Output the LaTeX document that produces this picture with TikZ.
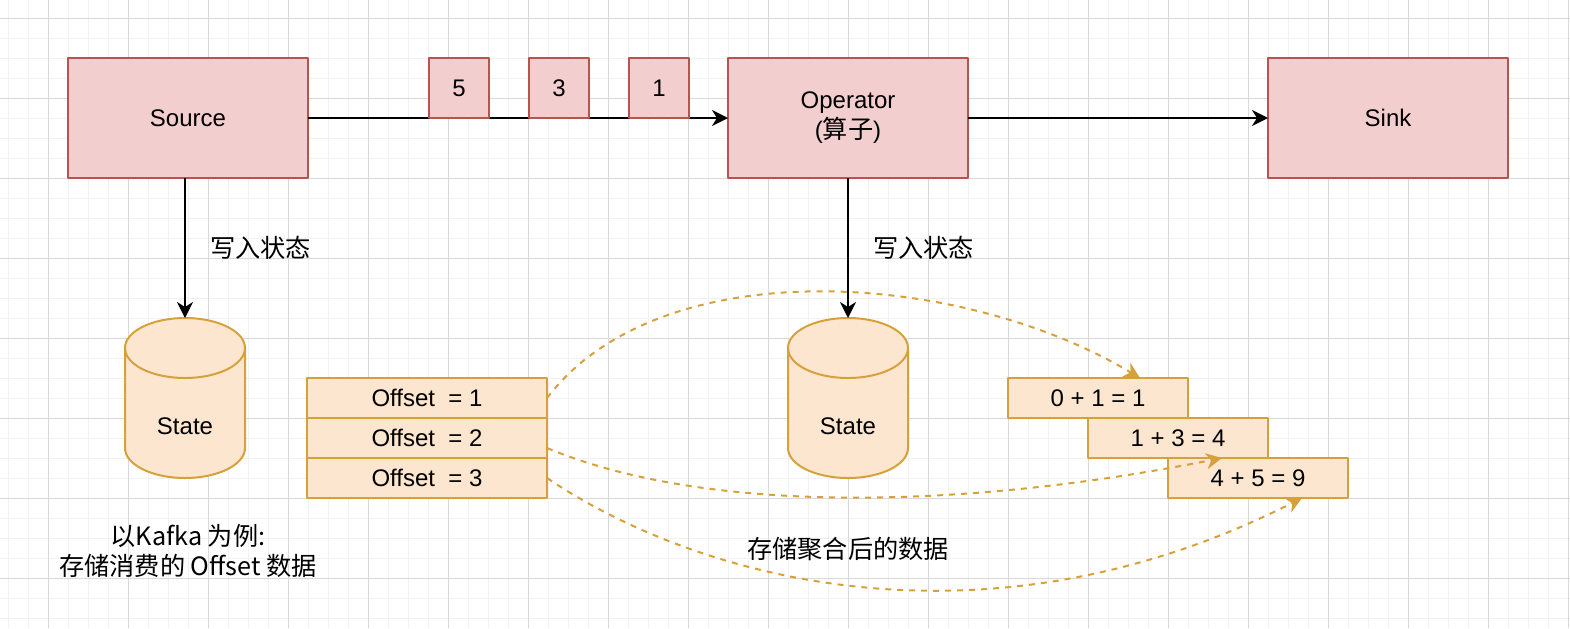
\documentclass[tikz,border=0pt]{standalone}
\usepackage{fontspec}
\setmainfont{Liberation Sans}
\newfontfamily\cjk[Scale=1.05]{Noto Sans CJK SC}
\usetikzlibrary{arrows.meta,positioning}
\definecolor{redline}{HTML}{B85450}
\definecolor{redfill}{HTML}{F2CFCE}
\definecolor{goldline}{HTML}{D6A13B}
\definecolor{goldfill}{HTML}{FCE6CF}
\definecolor{gridmaj}{HTML}{D9D9D9}
\definecolor{gridmin}{HTML}{F1F1F1}
\begin{document}
\begin{tikzpicture}[x=0.5pt,y=-0.5pt,>={Stealth[length=8pt,width=8pt,inset=2.5pt]},line join=round,
		font=\fontsize{12}{15}\selectfont,
		opbox/.style={draw=redline,fill=redfill,line width=1pt,minimum width=120pt,minimum height=60pt,align=center,outer sep=0pt},
		msgbox/.style={draw=redline,fill=redfill,line width=1pt,minimum width=30pt,minimum height=30pt,outer sep=0pt},
		cylnode/.style={minimum width=60pt,minimum height=80pt,inner sep=0pt,outer sep=0pt},
		offbox/.style={draw=goldline,fill=goldfill,line width=1pt,minimum width=120pt,minimum height=20pt,inner sep=0pt,outer sep=0pt},
		resbox/.style={offbox,minimum width=90pt},
		cjktxt/.style={font=\fontsize{12}{15}\selectfont\cjk},
		flow/.style={->,line width=1pt},
		agg/.style={->,draw=goldline,line width=1pt,dash pattern=on 3pt off 3pt}]
	\useasboundingbox (0,0) rectangle (1570,628);
	\begin{scope}[line width=0.5pt]
		\foreach \x in {8,28,...,1568} \draw[gridmin] (\x,0) -- (\x,628);
		\foreach \y in {18,38,...,618} \draw[gridmin] (0,\y) -- (1570,\y);
		\foreach \x in {48,128,...,1568} \draw[gridmaj] (\x,0) -- (\x,628);
		\foreach \y in {18,98,...,578} \draw[gridmaj] (0,\y) -- (1570,\y);
	\end{scope}
	\node[opbox] (src) at (188,118) {Source};
	\node[opbox] (op) at (848,118) {Operator\\({\cjk 算子})};
	\node[opbox] (sink) at (1388,118) {Sink};
	\draw[flow] (src) -- (op);
	\draw[flow] (op) -- (sink);
	\foreach \v/\x in {5/459,3/559,1/659}
	\node[msgbox] (m\v) at (\x,88) {\v};
	\node[cylnode] (st1) at (185,398) {};
	\node[cylnode] (st2) at (848,398) {};
	\foreach \c in {st1,st2}{
		\draw[draw=goldline,fill=goldfill,line width=1pt] ([yshift=-15pt]\c.north west) -- ([yshift=15pt]\c.south west) arc[start angle=180,end angle=360,x radius=30pt,y radius=15pt] -- ([yshift=-15pt]\c.north east) arc[start angle=0,end angle=180,x radius=30pt,y radius=15pt] -- cycle;
		\draw[goldline,line width=1pt] ([yshift=-15pt]\c.north west) arc[start angle=180,end angle=360,x radius=30pt,y radius=15pt];
		\node (\c txt) at ([yshift=-14pt]\c.center) {State};
	}
	\draw[flow] (st1 |- src.south) -- (st1);
	\draw[flow] (op) -- (st2);
	\node[cjktxt,anchor=west] (wr1) at (203,248) {写入状态};
	\node[cjktxt,anchor=west] (wr2) at (866,248) {写入状态};
	\node[offbox] (off1) at (427,398) {Offset\ \ = 1};
	\node[offbox,below=0pt of off1] (off2) {Offset\ \ = 2};
	\node[offbox,below=0pt of off2] (off3) {Offset\ \ = 3};
	\node[resbox] (res1) at (1098,398) {0 + 1 = 1};
	\node[resbox] (res2) at (1178,438) {1 + 3 = 4};
	\node[resbox] (res3) at (1258,478) {4 + 5 = 9};
	\draw[agg] (off1.east) .. controls (660,250) and (960,270) .. ([xshift=21pt]res1.north);
	\draw[agg] ([yshift=-5pt]off2.east) .. controls (700,512) and (950,512) .. ([xshift=-18pt]res3.north);
	\draw[agg] (off3.east) .. controls (695,578) and (982,660) .. ([xshift=22pt]res3.south);
	\node[cjktxt,align=center] (kafka) at (188,551) {以Kafka 为例:\\存储消费的 Offset 数据};
	\node[cjktxt] (aggtxt) at (848,549) {存储聚合后的数据};
\end{tikzpicture}
\end{document}
